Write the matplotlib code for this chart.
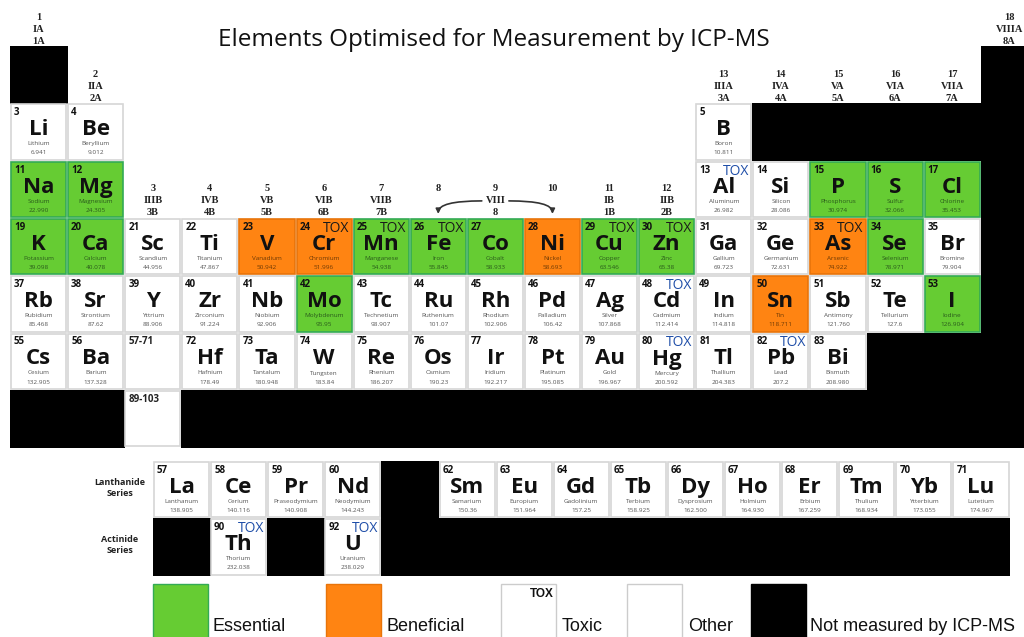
#periodic table - elements optimised for ICP-MS measurement
#cells coloured by category, black = not measured

import matplotlib.pyplot as plt
from matplotlib.patches import Rectangle, FancyArrowPatch


#measured elements (row 1-7 = period, 8 = lanthanides, 9 = actinides)

symbols = ["Li", "Be", "B",
           "Na", "Mg", "Al", "Si", "P", "S", "Cl",
           "K", "Ca", "Sc", "Ti", "V", "Cr", "Mn", "Fe", "Co", "Ni", "Cu", "Zn", "Ga", "Ge", "As", "Se", "Br",
           "Rb", "Sr", "Y", "Zr", "Nb", "Mo", "Tc", "Ru", "Rh", "Pd", "Ag", "Cd", "In", "Sn", "Sb", "Te", "I",
           "Cs", "Ba", "Hf", "Ta", "W", "Re", "Os", "Ir", "Pt", "Au", "Hg", "Tl", "Pb", "Bi",
           "La", "Ce", "Pr", "Nd", "Sm", "Eu", "Gd", "Tb", "Dy", "Ho", "Er", "Tm", "Yb", "Lu",
           "Th", "U"]

numbers = [3, 4, 5,
           11, 12, 13, 14, 15, 16, 17,
           19, 20, 21, 22, 23, 24, 25, 26, 27, 28, 29, 30, 31, 32, 33, 34, 35,
           37, 38, 39, 40, 41, 42, 43, 44, 45, 46, 47, 48, 49, 50, 51, 52, 53,
           55, 56, 72, 73, 74, 75, 76, 77, 78, 79, 80, 81, 82, 83,
           57, 58, 59, 60, 62, 63, 64, 65, 66, 67, 68, 69, 70, 71,
           90, 92]

names = ["Lithium", "Beryllium", "Boron",
         "Sodium", "Magnesium", "Aluminum", "Silicon", "Phosphorus", "Sulfur", "Chlorine",
         "Potassium", "Calcium", "Scandium", "Titanium", "Vanadium", "Chromium", "Manganese", "Iron",
         "Cobalt", "Nickel", "Copper", "Zinc", "Gallium", "Germanium", "Arsenic", "Selenium", "Bromine",
         "Rubidium", "Strontium", "Yttrium", "Zirconium", "Niobium", "Molybdenum", "Technetium", "Ruthenium",
         "Rhodium", "Palladium", "Silver", "Cadmium", "Indium", "Tin", "Antimony", "Tellurium", "Iodine",
         "Cesium", "Barium", "Hafnium", "Tantalum", "Tungsten", "Rhenium", "Osmium", "Iridium", "Platinum",
         "Gold", "Mercury", "Thallium", "Lead", "Bismuth",
         "Lanthanum", "Cerium", "Praseodymium", "Neodymium", "Samarium", "Europium", "Gadolinium",
         "Terbium", "Dysprosium", "Holmium", "Erbium", "Thulium", "Ytterbium", "Lutetium",
         "Thorium", "Uranium"]

masses = ["6.941", "9.012", "10.811",
          "22.990", "24.305", "26.982", "28.086", "30.974", "32.066", "35.453",
          "39.098", "40.078", "44.956", "47.867", "50.942", "51.996", "54.938", "55.845", "58.933",
          "58.693", "63.546", "65.38", "69.723", "72.631", "74.922", "78.971", "79.904",
          "85.468", "87.62", "88.906", "91.224", "92.906", "95.95", "98.907", "101.07", "102.906",
          "106.42", "107.868", "112.414", "114.818", "118.711", "121.760", "127.6", "126.904",
          "132.905", "137.328", "178.49", "180.948", "183.84", "186.207", "190.23", "192.217",
          "195.085", "196.967", "200.592", "204.383", "207.2", "208.980",
          "138.905", "140.116", "140.908", "144.243", "150.36", "151.964", "157.25", "158.925",
          "162.500", "164.930", "167.259", "168.934", "173.055", "174.967",
          "232.038", "238.029"]

cols = [1, 2, 13,
        1, 2, 13, 14, 15, 16, 17,
        1, 2, 3, 4, 5, 6, 7, 8, 9, 10, 11, 12, 13, 14, 15, 16, 17,
        1, 2, 3, 4, 5, 6, 7, 8, 9, 10, 11, 12, 13, 14, 15, 16, 17,
        1, 2, 4, 5, 6, 7, 8, 9, 10, 11, 12, 13, 14, 15,
        1, 2, 3, 4, 6, 7, 8, 9, 10, 11, 12, 13, 14, 15,
        2, 4]

rows = [2] * 3 + [3] * 7 + [4] * 17 + [5] * 17 + [6] * 14 + [8] * 14 + [9] * 2

# E = essential, B = beneficial, O = other
cats = ["O", "O", "O",
        "E", "E", "O", "O", "E", "E", "E",
        "E", "E", "O", "O", "B", "B", "E", "E", "E", "B", "E", "E", "O", "O", "B", "E", "O",
        "O", "O", "O", "O", "O", "E", "O", "O", "O", "O", "O", "O", "O", "B", "O", "O", "E",
        "O", "O", "O", "O", "O", "O", "O", "O", "O", "O", "O", "O", "O", "O",
        "O", "O", "O", "O", "O", "O", "O", "O", "O", "O", "O", "O", "O", "O",
        "O", "O"]

toxic = ["Al", "Cr", "Mn", "Fe", "Cu", "Zn", "As", "Cd", "Hg", "Pb", "Th", "U"]

#not measured by ICP-MS (drawn black)
nm_cols = [1, 18,
           14, 15, 16, 17, 18,
           18, 18, 18,
           16, 17, 18,
           1, 2, 4, 5, 6, 7, 8, 9, 10, 11, 12, 13, 14, 15, 16, 17, 18,
           5,
           1, 3, 5, 6, 7, 8, 9, 10, 11, 12, 13, 14, 15]
nm_rows = [1, 1,
           2, 2, 2, 2, 2,
           3, 4, 5,
           6, 6, 6,
           7, 7, 7, 7, 7, 7, 7, 7, 7, 7, 7, 7, 7, 7, 7, 7, 7,
           8,
           9, 9, 9, 9, 9, 9, 9, 9, 9, 9, 9, 9, 9]

#group headers: number, roman, A/B, column, row it sits above
grp_num = ["1", "2", "3", "4", "5", "6", "7", "11", "12", "13", "14", "15", "16", "17", "18"]
grp_roman = ["IA", "IIA", "IIIB", "IVB", "VB", "VIB", "VIIB", "IB", "IIB", "IIIA", "IVA", "VA", "VIA", "VIIA", "VIIIA"]
grp_ab = ["1A", "2A", "3B", "4B", "5B", "6B", "7B", "1B", "2B", "3A", "4A", "5A", "6A", "7A", "8A"]
grp_col = [1, 2, 3, 4, 5, 6, 7, 11, 12, 13, 14, 15, 16, 17, 18]
grp_row = [1, 2, 4, 4, 4, 4, 4, 4, 4, 2, 2, 2, 2, 2, 1]

legend_labels = ["Essential", "Beneficial", "Toxic", "Other", "Not measured by ICP-MS"]


#layout + style

W = 57.1
H = 57.3
FONT = ["Open Sans", "DejaVu Sans"]
ARIAL = ["Liberation Sans", "DejaVu Sans"]
SERIF = ["Liberation Serif", "DejaVu Serif"]

fill = {"E": "#66cc33", "B": "#ff8412", "O": "white"}
edge = {"E": "#33aa55", "B": "#e8740a", "O": "#d6d6d6"}
subcol = {"E": "#2a5a1c", "B": "#6e3a05", "O": "#555555"}


def origin(c, r):
    if r <= 7:
        return 10 + (c - 1) * W, 46 + (r - 1) * H
    return 153 + (c - 1) * W, 461 + (r - 8) * H


fig = plt.figure(figsize=(10.24, 6.37), dpi=100)
ax = fig.add_axes([0, 0, 1, 1])
ax.set_xlim(0, 1024)
ax.set_ylim(637, 0)
ax.axis("off")

ax.text(494, 46, "Elements Optimised for Measurement by ICP-MS", fontsize=17.5,
        family=FONT, color="#111111", ha="center", va="baseline")

#black cells
for c, r in zip(nm_cols, nm_rows):
    x, y = origin(c, r)
    ax.add_patch(Rectangle((x, y), W + 0.6, H + 0.6, facecolor="black", edgecolor="none"))

#element cells
for sym, num, nm, m, c, r, cat in zip(symbols, numbers, names, masses, cols, rows, cats):
    x, y = origin(c, r)
    ax.add_patch(Rectangle((x + 1, y + 1), W - 2, H - 2, facecolor=fill[cat],
                           edgecolor=edge[cat], lw=1.2))
    ax.text(x + 4, y + 12, str(num), fontsize=7, fontweight="bold", family=FONT,
            color="#111111", va="baseline")
    ax.text(x + W / 2, y + 32, sym, fontsize=16, fontweight="bold", family=FONT,
            color="#111111", ha="center", va="baseline")
    ax.text(x + W / 2, y + 42, nm, fontsize=4.6, family=FONT, color=subcol[cat],
            ha="center", va="baseline")
    ax.text(x + W / 2, y + 51, m, fontsize=4.6, family=FONT, color=subcol[cat],
            ha="center", va="baseline")
    if sym in toxic:
        tcol = "#1f4ea8" if cat == "O" else "#1a1a1a"
        ax.text(x + W - 3, y + 14, "TOX", fontsize=10, family=FONT, color=tcol,
                ha="right", va="baseline")

#placeholder cells for La/Ac series
for txt, r in zip(["57-71", "89-103"], [6, 7]):
    x, y = origin(3, r)
    ax.add_patch(Rectangle((x + 1, y + 1), W - 2, H - 2, facecolor="white",
                           edgecolor="#d6d6d6", lw=1.2))
    ax.text(x + 4, y + 12, txt, fontsize=7, fontweight="bold", family=FONT,
            color="#222222", va="baseline")

#group headers
for n, ro, ab, c, r in zip(grp_num, grp_roman, grp_ab, grp_col, grp_row):
    x, y = origin(c, r)
    for k, t in enumerate([n, ro, ab]):
        ax.text(x + W / 2, y - 29 + 12 * k, t, fontsize=7.5, fontweight="bold",
                family=SERIF, color="#222222", ha="center", va="center")

#groups 8-10 share VIII
x8, y8 = origin(8, 4)
x9, _ = origin(9, 4)
x10, _ = origin(10, 4)
for t, xx in zip(["8", "9", "10"], [x8, x9, x10]):
    ax.text(xx + W / 2, y8 - 29, t, fontsize=7.5, fontweight="bold",
            family=SERIF, color="#222222", ha="center", va="center")
ax.text(x9 + W / 2, y8 - 17, "VIII", fontsize=7.5, fontweight="bold",
        family=SERIF, color="#222222", ha="center", va="center")
ax.text(x9 + W / 2, y8 - 5, "8", fontsize=7.5, fontweight="bold",
        family=SERIF, color="#222222", ha="center", va="center")
for xs, xe in [(x9 + 15, x8 + W / 2), (x9 + W - 15, x10 + W / 2)]:
    ax.add_patch(FancyArrowPatch((xs, y8 - 17), (xe, y8 - 4),
                                 connectionstyle="angle3,angleA=0,angleB=90",
                                 arrowstyle="-|>", mutation_scale=7, lw=1.2,
                                 color="#333333", shrinkA=0, shrinkB=0))

#series labels
ax.text(120, 488, "Lanthanide\nSeries", fontsize=6.5, fontweight="bold", family=FONT,
        color="#222222", ha="center", va="center", linespacing=1.3)
ax.text(120, 545, "Actinide\nSeries", fontsize=6.5, fontweight="bold", family=FONT,
        color="#222222", ha="center", va="center", linespacing=1.3)

#legend
lg_x = [153, 326, 501, 627, 751]
lg_fill = [fill["E"], fill["B"], "white", "white", "black"]
lg_edge = [edge["E"], edge["B"], "#cccccc", "#cccccc", "black"]
lg_gap = [5, 5, 6, 6, 4]
for lab, lx, fc, ec, gp in zip(legend_labels, lg_x, lg_fill, lg_edge, lg_gap):
    ax.add_patch(Rectangle((lx, 584), 55, 60, facecolor=fc, edgecolor=ec, lw=1))
    ax.text(lx + 55 + gp, 631, lab, fontsize=13, family=ARIAL, color="#111111", va="baseline")
ax.text(lg_x[2] + 53, 597, "TOX", fontsize=8.5, fontweight="bold", family=ARIAL,
        color="#111111", ha="right", va="baseline")

plt.savefig("out.png", dpi=100)
